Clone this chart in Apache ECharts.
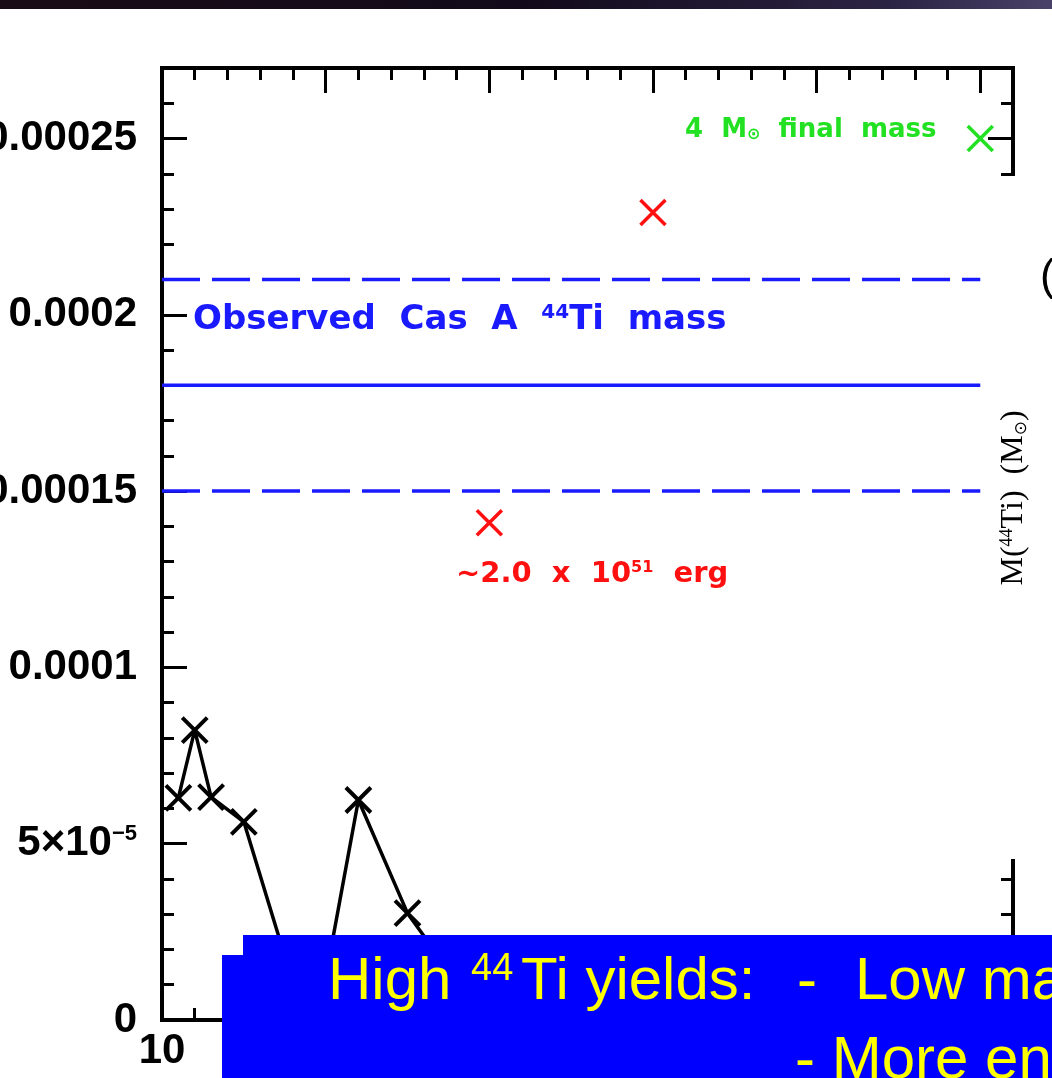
<!DOCTYPE html>
<html><head><meta charset="utf-8">
<script src="https://cdn.jsdelivr.net/npm/echarts@6.0.0/dist/echarts.min.js"></script>
<style>html,body{margin:0;padding:0;background:#fff;overflow:hidden}#c{width:1052px;height:1078px}</style>
</head><body><div id="c"></div>
<script>
// ---- data ----
const blackMass = [10.5, 11, 11.5, 12.5, 14, 15, 16, 17.5, 19];
const blackTi   = [6.30e-5, 8.22e-5, 6.32e-5, 5.62e-5, 1.05e-5, 1.2e-5, 6.24e-5, 3.03e-5, 1.1e-5];
const redMass   = [20, 25];
const redTi     = [1.41e-4, 2.29e-4];
const greenMass = [35];
const greenTi   = [2.5e-4];
const observedTi    = [1.5e-4, 1.8e-4, 2.1e-4];   // low, central, high
const observedRange = [10, 35];
const xTickValues = [10, 15, 20, 25, 30, 35];
const xTickLabels = ['10', '15', '20', '25', '30', '35'];
const yTickValues = [0, 5e-5, 1e-4, 1.5e-4, 2e-4, 2.5e-4];
const yTickLabels = ['0', '5×10{s|−5}', '0.0001', '0.00015', '0.0002', '0.00025'];

const X_MIN = 10, X_MAX = 36, Y_MIN = 0, Y_MAX = 0.00027;
const CROSS = 'path://M0,0L20,20M20,0L0,20';

function fmtX(v) {
  const i = xTickValues.findIndex(t => Math.abs(t - v) < 1e-6);
  return i >= 0 ? xTickLabels[i] : '';
}
function fmtY(v) {
  const k = Math.round(v / 1e-6);
  const i = yTickValues.findIndex(t => Math.round(t / 1e-6) === k);
  return i >= 0 ? yTickLabels[i] : '';
}
const labelFont = { fontFamily: 'Liberation Sans', fontSize: 42, fontWeight: 'bold', color: '#000' };

function xAxis(pos, interval, len, withLine, labels) {
  return {
    type: 'value', position: pos, min: X_MIN, max: X_MAX, interval: interval,
    axisLine: { show: withLine, onZero: false, lineStyle: { color: '#000', width: 4, cap: 'square' } },
    axisTick: { show: true, inside: true, length: len, lineStyle: { color: '#000', width: 3 } },
    axisLabel: Object.assign({ show: labels, margin: 10, formatter: fmtX }, labelFont),
    splitLine: { show: false }, minorTick: { show: false }
  };
}
function yAxis(pos, interval, len, withLine, labels) {
  return {
    type: 'value', position: pos, min: Y_MIN, max: Y_MAX, interval: interval,
    axisLine: { show: withLine, onZero: false, lineStyle: { color: '#000', width: 4, cap: 'square' } },
    axisTick: { show: true, inside: true, length: len, lineStyle: { color: '#000', width: 3 } },
    axisLabel: Object.assign({ show: labels, margin: 25, formatter: fmtY,
      rich: { s: { fontSize: 22, fontWeight: 'bold', fontFamily: 'Liberation Sans', verticalAlign: 'top', color: '#000' } } }, labelFont),
    splitLine: { show: false }, minorTick: { show: false }
  };
}

const chart = echarts.init(document.getElementById('c'), null, { renderer: 'canvas' });

const series = [];
observedTi.forEach((v, i) => {
  series.push({
    type: 'line', xAxisIndex: 0, yAxisIndex: 0, symbol: 'none', silent: true,
    data: [[observedRange[0], v], [observedRange[1], v]],
    lineStyle: { color: '#1a1aff', width: 3.5, type: i === 1 ? 'solid' : [38, 12] }, z: 3
  });
});
series.push({
  type: 'line', xAxisIndex: 0, yAxisIndex: 0,
  data: blackMass.map((m, i) => [m, blackTi[i]]),
  symbol: CROSS, symbolSize: 25, showSymbol: true,
  lineStyle: { color: '#000', width: 3.5 },
  itemStyle: { color: '#000', borderColor: '#000', borderWidth: 4 }, z: 4
});
series.push({
  type: 'scatter', xAxisIndex: 0, yAxisIndex: 0,
  data: redMass.map((m, i) => [m, redTi[i]]),
  symbol: CROSS, symbolSize: 25,
  itemStyle: { color: '#ff1010', borderColor: '#ff1010', borderWidth: 3.5, opacity: 1 }, z: 4
});
series.push({
  type: 'scatter', xAxisIndex: 0, yAxisIndex: 0,
  data: greenMass.map((m, i) => [m, greenTi[i]]),
  symbol: CROSS, symbolSize: 25,
  itemStyle: { color: '#22e022', borderColor: '#22e022', borderWidth: 3.5, opacity: 1 }, z: 4
});

const annoFont = '"DejaVu Sans"';
const yellow = (text, x, y, extra) => ({ type: 'text', z: 111, x: x, y: y,
  style: Object.assign({ text: text, font: '60px "Liberation Sans"', fill: '#ffff00', align: 'left', verticalAlign: 'middle' }, extra || {}) });

chart.setOption({
  animation: false,
  backgroundColor: '#ffffff',
  grid: { left: 162, right: 39, top: 68, bottom: 58, containLabel: false, outerBoundsMode: 'none' },
  xAxis: [
    xAxis('bottom', 5, 25, true, true),
    xAxis('bottom', 1, 12, false, false),
    xAxis('top', 5, 25, true, false),
    xAxis('top', 1, 12, false, false)
  ],
  yAxis: [
    yAxis('left', 5e-5, 25, true, true),
    yAxis('left', 1e-5, 12, false, false),
    yAxis('right', 5e-5, 25, true, false),
    yAxis('right', 1e-5, 12, false, false)
  ],
  series: series,
  graphic: [
    { type: 'rect', z: 100, shape: { x: 0, y: 0, width: 1052, height: 9 },
      style: { fill: new echarts.graphic.LinearGradient(0, 0, 1, 0, [
        { offset: 0, color: '#1a0c16' }, { offset: 0.5, color: '#120a1a' },
        { offset: 0.85, color: '#2c2444' }, { offset: 1, color: '#4a4268' }]) } },
    { type: 'rect', z: 100, shape: { x: 982, y: 176, width: 70, height: 683 }, style: { fill: '#ffffff' } },
    { type: 'text', z: 101, x: 1040, y: 278,
      style: { text: '(', font: '44px "Liberation Sans"', fill: '#000', verticalAlign: 'middle', align: 'left' } },
    { type: 'text', z: 101, x: 1014, y: 498, rotation: Math.PI / 2,
      style: { text: 'M({s|44}Ti)  (M{b|⊙})', font: '32px "Liberation Serif"', fill: '#000',
        align: 'center', verticalAlign: 'middle',
        rich: { s: { fontSize: 18, fontFamily: 'Liberation Serif', verticalAlign: 'top' },
                b: { fontSize: 17, fontFamily: 'DejaVu Sans', verticalAlign: 'bottom' } } } },
    { type: 'text', z: 101, x: 193, y: 320,
      style: { text: 'Observed  Cas  A  {s|44}Ti  mass', font: 'bold 34px ' + annoFont, fill: '#1a1aff',
        align: 'left', verticalAlign: 'middle',
        rich: { s: { fontSize: 20, fontWeight: 'bold', fontFamily: 'DejaVu Sans', verticalAlign: 'top' } } } },
    { type: 'text', z: 101, x: 456, y: 574,
      style: { text: '~2.0  x  10{s|51}  erg', font: 'bold 29px ' + annoFont, fill: '#ff1010',
        align: 'left', verticalAlign: 'middle',
        rich: { s: { fontSize: 16, fontWeight: 'bold', fontFamily: 'DejaVu Sans', verticalAlign: 'top' } } } },
    { type: 'text', z: 101, x: 685, y: 130,
      style: { text: '4  M{b|⊙}  final  mass', font: 'bold 26px ' + annoFont, fill: '#22e022',
        align: 'left', verticalAlign: 'middle',
        rich: { b: { fontSize: 16, fontWeight: 'bold', fontFamily: 'DejaVu Sans', verticalAlign: 'bottom' } } } },
    { type: 'polygon', z: 110,
      shape: { points: [[243, 935], [1052, 935], [1052, 1078], [222, 1078], [222, 955], [243, 955]] },
      style: { fill: '#0000ff' } },
    yellow('High', 328, 982),
    yellow('44', 471, 970, { font: '38px "Liberation Sans"' }),
    yellow('Ti yields:', 521, 982),
    yellow('-', 797, 982),
    yellow('Low mass', 855, 982),
    yellow('- More energetic', 795, 1061)
  ]
});
</script>
</body></html>
